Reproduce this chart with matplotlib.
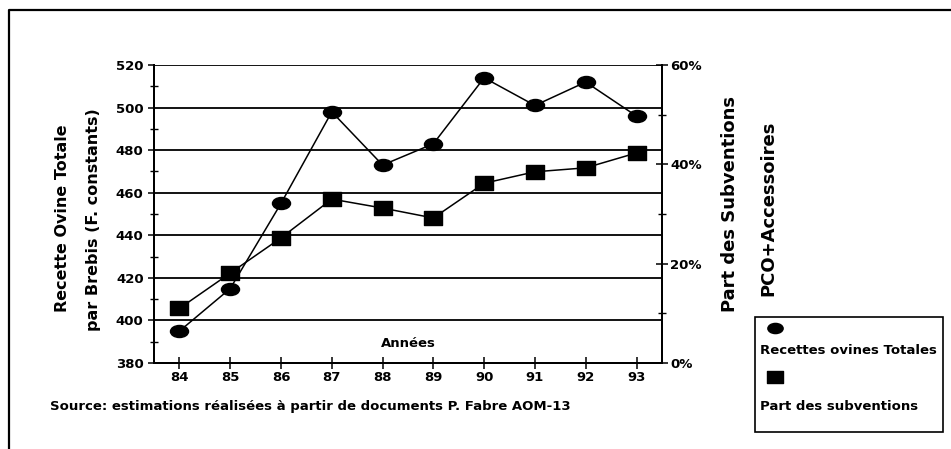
import matplotlib.pyplot as plt
import numpy as np
from matplotlib.path import Path
from matplotlib.transforms import Affine2D
from matplotlib.lines import Line2D
from matplotlib.patches import Rectangle
from matplotlib.ticker import MultipleLocator, PercentFormatter

plt.rcParams['font.family'] = ['DejaVu Sans']
plt.rcParams['font.weight'] = 'bold'

# Données
annees = [84, 85, 86, 87, 88, 89, 90, 91, 92, 93]
recettes = [395, 415, 455, 498, 473, 483, 514, 501, 512, 496]
part_subv = [11.0, 18.1, 25.2, 33.0, 31.2, 29.2, 36.2, 38.5, 39.3, 42.3]

# marqueurs: ellipse et rectangle aplatis comme sur le document
ellipse = Affine2D().scale(1.5, 1.0).transform_path(Path.unit_circle())
carre = Path([(-1.3, -1), (1.3, -1), (1.3, 1), (-1.3, 1), (-1.3, -1)],
             [Path.MOVETO, Path.LINETO, Path.LINETO, Path.LINETO, Path.CLOSEPOLY])

fig = plt.figure(figsize=(9.51, 4.49), dpi=100)
ax = fig.add_axes([0.162, 0.1915, 0.534, 0.6637])
ax2 = ax.twinx()

ax.plot(annees, recettes, color='black', lw=1.1, marker=ellipse,
        markersize=13, zorder=3)
ax2.plot(annees, part_subv, color='black', lw=1.1, marker=carre,
         markersize=12.5, zorder=3)

ax.set_xlim(83.5, 93.5)
ax.set_ylim(380, 520)
ax2.set_ylim(0, 60)

ax.set_xticks(annees)
ax.yaxis.set_major_locator(MultipleLocator(20))
ax.yaxis.set_minor_locator(MultipleLocator(10))
ax2.yaxis.set_major_locator(MultipleLocator(20))
ax2.yaxis.set_minor_locator(MultipleLocator(10))
ax2.yaxis.set_major_formatter(PercentFormatter(decimals=0))

ax.grid(axis='y', color='black', lw=1.3)
ax.tick_params(axis='x', direction='inout', length=8, width=1.1, labelsize=9.5, pad=2)
ax.tick_params(axis='y', which='major', direction='out', length=4, width=1.1, labelsize=9.5)
ax.tick_params(axis='y', which='minor', direction='inout', length=6, width=1)
ax2.tick_params(axis='y', which='major', direction='inout', length=8, width=1.1, labelsize=9.5, pad=2)
ax2.tick_params(axis='y', which='minor', direction='inout', length=6, width=1)

for a in (ax, ax2):
    a.spines['top'].set_visible(False)
    for s in ('left', 'right', 'bottom'):
        a.spines[s].set_linewidth(1.4)

ax.text(88.5, 389, 'Années', ha='center', va='center', fontsize=9.5)

# titres des axes
fig.text(0.066, 0.513, 'Recette Ovine Totale', rotation=90, ha='center', va='center', fontsize=11.5)
fig.text(0.098, 0.51, 'par Brebis (F. constants)', rotation=90, ha='center', va='center', fontsize=11.5)
fig.text(0.768, 0.545, 'Part des Subventions', rotation=90, ha='center', va='center', fontsize=13)
fig.text(0.808, 0.537, 'PCO+Accessoires', rotation=90, ha='center', va='center', fontsize=13)

fig.text(0.053, 0.094, 'Source: estimations réalisées à partir de documents P. Fabre AOM-13',
         ha='left', va='center', fontsize=9.5)

# légende
fig.add_artist(Rectangle((0.794, 0.038), 0.198, 0.256, transform=fig.transFigure,
                         fill=False, lw=1.2, ec='black'))
fig.add_artist(Line2D([0.815], [0.27], transform=fig.transFigure, marker=ellipse,
                      markersize=11, color='black', ls='none'))
fig.text(0.799, 0.22, 'Recettes ovines Totales', ha='left', va='center', fontsize=9.5)
fig.add_artist(Line2D([0.815], [0.16], transform=fig.transFigure, marker=carre,
                      markersize=11, color='black', ls='none'))
fig.text(0.799, 0.094, 'Part des subventions', ha='left', va='center', fontsize=9.5)

# cadre
fig.add_artist(Line2D([0.0095, 0.0095, 1.0], [0.0, 0.978, 0.978],
                      transform=fig.transFigure, color='black', lw=1.6))

fig.savefig('out.png', dpi=100)
